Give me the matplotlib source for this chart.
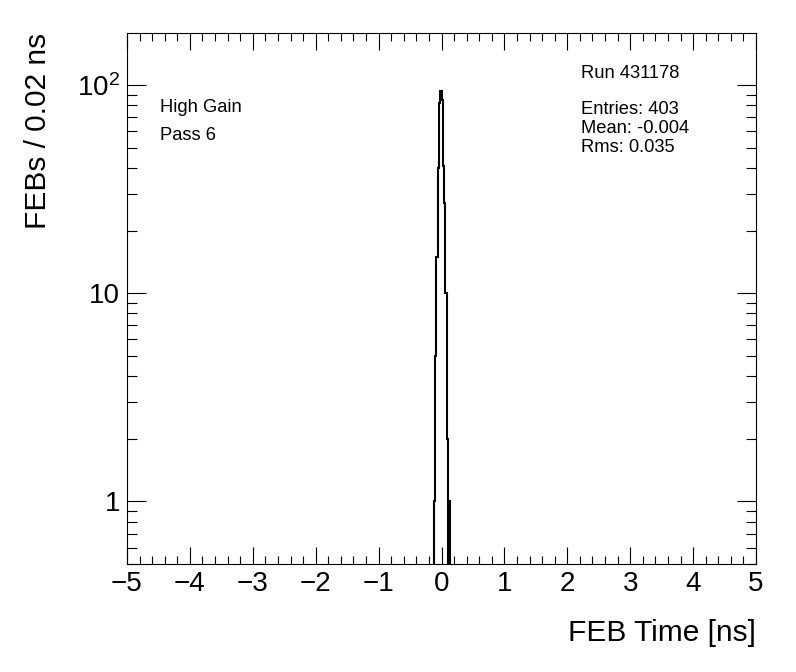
import numpy as np
import matplotlib
matplotlib.use("Agg")
import matplotlib.pyplot as plt
from matplotlib.ticker import FixedLocator, FixedFormatter, MultipleLocator, FuncFormatter

plt.rcParams['font.family'] = ['Liberation Sans', 'DejaVu Sans']
plt.rcParams['mathtext.fontset'] = 'custom'
plt.rcParams['mathtext.rm'] = 'Liberation Sans'
plt.rcParams['mathtext.it'] = 'Liberation Sans'

# bin lower edges (ns) with non-empty content, bin width 0.02 ns
bin_low = [-0.12, -0.10, -0.08, -0.06, -0.04, -0.02, 0.00, 0.02, 0.04, 0.06, 0.08, 0.10, 0.12]
counts = [1, 5, 15, 40, 82, 94, 85, 41, 27, 10, 2, 0, 1]

run_text = "Run 431178"
stat_lines = ["Entries: 403", "Mean: -0.004", "Rms: 0.035"]
info_lines = ["High Gain", "Pass 6"]

# full histogram -5..5 ns, 500 bins
edges = np.linspace(-5, 5, 501)
h = np.zeros(500)
for lo, c in zip(bin_low, counts):
    i = int(round((lo + 5) / 0.02))
    h[i] = c

fig = plt.figure(figsize=(7.96, 6.72), dpi=100)
ax = fig.add_axes([127/796, 1 - 564/672, (756 - 127)/796, (564 - 33)/672])

ax.stairs(h, edges, baseline=1e-3, color='black', lw=1.5)

ax.set_yscale('log')
ax.set_xlim(-5, 5)
ax.set_ylim(0.5, 178)

# x ticks
ax.xaxis.set_major_locator(MultipleLocator(1))
ax.xaxis.set_minor_locator(MultipleLocator(0.2))
ax.xaxis.set_major_formatter(FuncFormatter(
    lambda v, p: ('\u2212%d' % abs(round(v))) if v < -0.5 else '%d' % round(v)))

# y ticks
ax.yaxis.set_major_locator(FixedLocator([1, 10, 100]))
ax.yaxis.set_major_formatter(FixedFormatter(['1', '10', r'$\mathregular{10^{2}}$']))
minors = [0.5, 0.6, 0.7, 0.8, 0.9] + [k for k in range(2, 10)] + [k * 10 for k in range(2, 10)]
ax.yaxis.set_minor_locator(FixedLocator(minors))
ax.yaxis.set_minor_formatter(FixedFormatter([''] * len(minors)))

ax.tick_params(axis='both', which='both', direction='in', top=True, right=True, width=0.8)
ax.tick_params(axis='x', which='major', length=12, labelsize=20, pad=5)
ax.tick_params(axis='x', which='minor', length=6)
ax.tick_params(axis='y', which='major', length=14, labelsize=20, pad=5)
ax.tick_params(axis='y', which='minor', length=7)
for s in ax.spines.values():
    s.set_linewidth(0.8)

ax.set_xlabel('FEB Time [ns]', fontsize=21.5, loc='right', labelpad=16)
ax.set_ylabel('FEBs / 0.02 ns', fontsize=21.5, loc='top', labelpad=18)

# text boxes
fig.text(160/796, 1 - 108/672, info_lines[0], fontsize=13.2, va='center', ha='left')
fig.text(160/796, 1 - 135/672, info_lines[1], fontsize=13.2, va='center', ha='left')
fig.text(581/796, 1 - 74/672, run_text, fontsize=13.2, va='center', ha='left')
for i, t in enumerate(stat_lines):
    fig.text(581/796, 1 - (110 + i * 18.5)/672, t, fontsize=13.2, va='center', ha='left')

fig.savefig('out.png', dpi=100)
